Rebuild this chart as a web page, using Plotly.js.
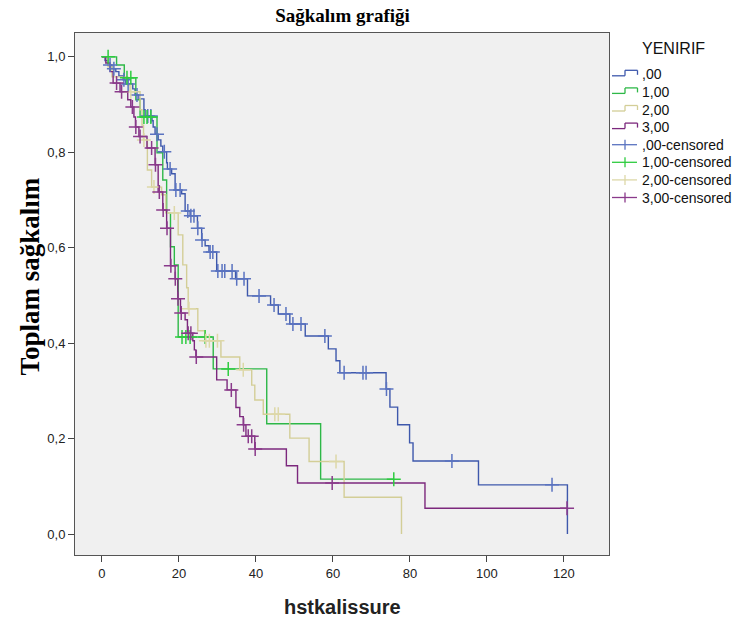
<!DOCTYPE html>
<html>
<head>
<meta charset="utf-8">
<script src="https://cdn.plot.ly/plotly-3.0.1.min.js"></script>
<style>html,body{margin:0;padding:0;background:#fff;}#chart{width:738px;height:628px;}</style>
</head>
<body>
<div id="chart"></div>
<script>
// Group labels
const groupNames = [",00", "1,00", "2,00", "3,00"];
const censorNames = [",00-censored", "1,00-censored", "2,00-censored", "3,00-censored"];
const legendTitle = "YENIRIF";
const chartTitle = "Sağkalım grafiği";
const xTitle = "hstkalissure";
const yTitle = "Toplam sağkalım";
const xTicks = [0, 20, 40, 60, 80, 100, 120];
const yTicks = [0, 0.2, 0.4, 0.6, 0.8, 1.0];

// ,00 (blue): event times and survival after each event
const blueTimes = [0.8,1.6,2.6,3.6,4.4,5.5,6.2,8.0,8.6,9.6,10.9,11.2,13.0,13.3,13.8,14.6,15.3,15.8,16.8,17.0,18.1,19.0,20.7,21.6,22.9,24.8,25.9,26.8,27.8,29.8,34.7,37.8,43.8,45.8,48.8,52.8,58.8,60.8,61.8,73.8,74.8,76.8,79.9,80.8,97.8,120.9];
const blueSurv  = [0.992,0.983,0.975,0.969,0.960,0.952,0.943,0.933,0.920,0.912,0.889,0.876,0.866,0.853,0.838,0.826,0.813,0.801,0.778,0.765,0.755,0.721,0.713,0.677,0.667,0.641,0.616,0.604,0.591,0.551,0.535,0.499,0.480,0.461,0.440,0.415,0.388,0.363,0.338,0.304,0.266,0.229,0.191,0.153,0.103,0.0];
const blueEnd = 120.9;
const blueCens = [2.1,3.1,5.7,6.8,9.1,11.9,12.7,14.3,16.2,17.7,19.2,20.3,22.3,23.1,23.9,24.9,26.0,28.1,28.8,30.1,31.2,31.9,33.8,35.0,36.9,40.8,44.7,47.8,49.6,51.7,57.9,62.9,67.8,68.6,73.9,90.9,116.9];

// 1,00 (green)
const greenTimes = [3.8,5.8,8.8,9.9,14.3,15.8,16.8,17.8,18.8,19.8,28.9,42.8,56.8];
const greenSurv  = [0.983,0.956,0.910,0.874,0.799,0.742,0.673,0.602,0.564,0.413,0.346,0.231,0.115];
const greenEnd = 75.8;
const greenCens = [1.6,6.5,7.5,10.9,11.7,12.7,20.8,21.8,22.9,26.8,32.8,75.8];

// 2,00 (tan)
const tanTimes = [1.6,2.6,6.7,7.3,9.9,10.4,10.8,11.8,12.9,15.5,16.6,19.8,21.0,22.0,22.4,24.9,26.7,30.9,35.8,38.9,39.7,41.9,48.8,53.8,62.9,77.8];
const tanSurv  = [0.979,0.958,0.941,0.927,0.889,0.857,0.826,0.763,0.727,0.711,0.673,0.627,0.564,0.516,0.472,0.426,0.405,0.371,0.344,0.312,0.281,0.251,0.201,0.152,0.077,0.0];
const tanEnd = 77.8;
const tanCens = [7.5,10.9,13.5,18.8,22.6,27.0,27.9,30.0,36.7,44.9,45.8,60.8];

// 3,00 (purple)
const purpleTimes = [1.0,2.1,2.9,4.7,6.7,7.5,8.3,8.7,9.6,11.7,13.8,14.6,15.8,16.8,17.8,19.0,19.7,20.4,21.6,22.2,23.6,24.0,24.4,29.8,32.5,34.8,35.8,36.7,37.4,39.7,47.9,50.8,83.9];
const purpleSurv  = [0.987,0.969,0.945,0.927,0.910,0.895,0.874,0.853,0.833,0.809,0.774,0.717,0.679,0.641,0.562,0.535,0.493,0.463,0.449,0.421,0.405,0.386,0.371,0.323,0.302,0.265,0.246,0.229,0.205,0.178,0.143,0.107,0.054];
const purpleEnd = 120.8;
const purpleCens = [3.8,5.1,7.9,8.8,9.9,12.9,13.9,14.9,15.9,16.9,17.9,19.05,19.75,20.6,22.4,23.1,24.5,33.6,36.8,38.0,38.9,39.8,59.8,120.8];

const colors = ["#3e58ac", "#2eb848", "#d3ce97", "#7c287d"];
const crossColors = ["#5a73c0", "#2ecc40", "#ddd8a8", "#8a3a8b"];

const groups = [
  {t: blueTimes, s: blueSurv, end: blueEnd, c: blueCens},
  {t: greenTimes, s: greenSurv, end: greenEnd, c: greenCens},
  {t: tanTimes, s: tanSurv, end: tanEnd, c: tanCens},
  {t: purpleTimes, s: purpleSurv, end: purpleEnd, c: purpleCens}
];

function survAt(g, time) {
  let v = 1.0;
  for (let i = 0; i < g.t.length; i++) { if (g.t[i] <= time) v = g.s[i]; }
  return v;
}

const traces = [];
groups.forEach((g, i) => {
  const x = [0].concat(g.t);
  const y = [1.0].concat(g.s);
  if (g.end > g.t[g.t.length - 1]) { x.push(g.end); y.push(g.s[g.s.length - 1]); }
  traces.push({x: x, y: y, type: 'scatter', mode: 'lines', name: groupNames[i], showlegend: false,
    line: {shape: 'hv', color: colors[i], width: 1.4}, hoverinfo: 'skip'});
});
groups.forEach((g, i) => {
  traces.push({x: g.c, y: g.c.map(t => survAt(g, t)), type: 'scatter', mode: 'markers', name: censorNames[i], showlegend: false,
    marker: {symbol: 'cross-thin', size: 10, color: crossColors[i], line: {width: 1.5, color: crossColors[i]}}, hoverinfo: 'skip'});
});

// layout geometry (pixels)
const W = 738, H = 628, ML = 75, MR = 129, MT = 33, MB = 73;
const PW = W - ML - MR, PH = H - MT - MB;
const px2x = p => (p - ML) / PW;
const py2y = p => (H - MB - p) / PH;

const shapes = [];
const annotations = [];
const sans = 'Liberation Sans, Arial, sans-serif';
const serif = 'Liberation Serif, Times New Roman, serif';

// custom legend
annotations.push({text: legendTitle, xref: 'paper', yref: 'paper', x: px2x(673), y: py2y(48), xanchor: 'center', yanchor: 'middle',
  showarrow: false, font: {family: sans, size: 16, color: '#111'}});
const itemY0 = 74.3, itemDY = 17.6;
const allNames = groupNames.concat(censorNames);
allNames.forEach((nm, k) => {
  const yc = itemY0 + k * itemDY;
  const ci = k % 4;
  const seg = (x0, y0, x1, y1, col) => shapes.push({type: 'line', xref: 'paper', yref: 'paper',
    x0: px2x(x0), y0: py2y(y0), x1: px2x(x1), y1: py2y(y1), line: {color: col, width: 1.3}});
  if (k < 4) {
    seg(612, yc + 1.5, 625, yc + 1.5, colors[ci]);
    seg(625, yc + 1.5, 625, yc - 4, colors[ci]);
    seg(625, yc - 4, 637.5, yc - 4, colors[ci]);
    seg(637.5, yc - 4, 637.5, yc + 0.5, colors[ci]);
  } else {
    seg(612, yc, 637, yc, crossColors[ci]);
    seg(625, yc - 5, 625, yc + 5, crossColors[ci]);
  }
  annotations.push({text: nm, xref: 'paper', yref: 'paper', x: px2x(640), y: py2y(yc), xanchor: 'left', yanchor: 'middle',
    showarrow: false, font: {family: sans, size: 14, color: '#111'}});
});

// axis titles
annotations.push({text: xTitle, xref: 'paper', yref: 'paper', x: px2x(342.5), y: py2y(607), xanchor: 'center', yanchor: 'middle',
  showarrow: false, font: {family: sans, size: 20, color: '#222', weight: 'bold'}});
annotations.push({text: yTitle, xref: 'paper', yref: 'paper', x: px2x(29), y: py2y(276.5), xanchor: 'center', yanchor: 'middle',
  textangle: -90, showarrow: false, font: {family: serif, size: 27, color: '#000', weight: 'bold'}});

const layout = {
  width: W, height: H,
  margin: {l: ML, r: MR, t: MT, b: MB, autoexpand: false},
  paper_bgcolor: '#ffffff', plot_bgcolor: '#f0f0f0',
  separators: ', ',
  showlegend: false,
  title: {text: chartTitle, xref: 'container', yref: 'container', x: 342.5 / W, xanchor: 'center', y: 1 - 15 / H, yanchor: 'middle',
    font: {family: serif, size: 19, color: '#000', weight: 'bold'}},
  xaxis: {range: [-7, 131.7], tickvals: xTicks, ticks: 'outside', ticklen: 6, tickcolor: '#444',
    showline: true, linecolor: '#555', linewidth: 1, mirror: true, showgrid: false, zeroline: false,
    tickfont: {family: sans, size: 13, color: '#222'}},
  yaxis: {range: [-0.044, 1.050], tickvals: yTicks, tickformat: '.1f', ticks: 'outside', ticklen: 6, tickcolor: '#444',
    showline: true, linecolor: '#555', linewidth: 1, mirror: true, showgrid: false, zeroline: false,
    tickfont: {family: sans, size: 13, color: '#222'}},
  shapes: shapes,
  annotations: annotations
};

Plotly.newPlot('chart', traces, layout, {displayModeBar: false, staticPlot: true});
</script>
</body>
</html>
